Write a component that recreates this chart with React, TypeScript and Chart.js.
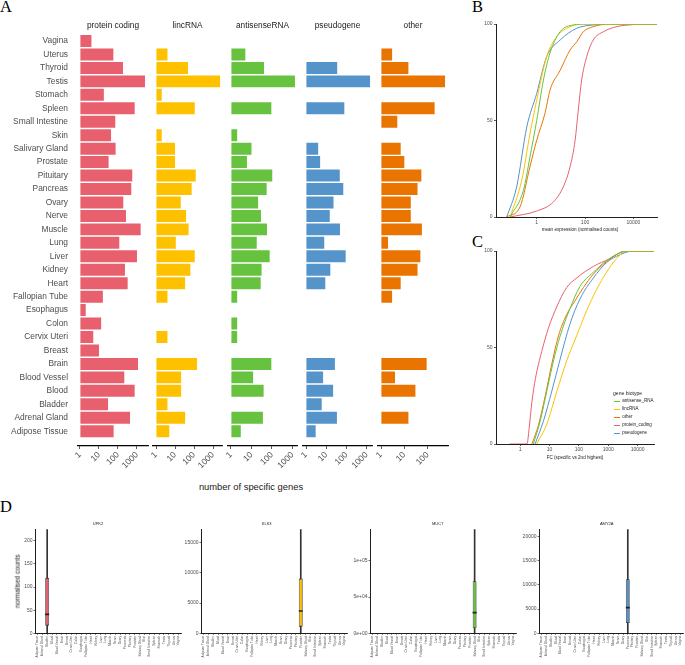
import React, { useEffect, useRef } from "react";
import { Chart, registerables } from "chart.js";

Chart.register(...registerables);

const SANS = "'Liberation Sans', Arial, Helvetica, sans-serif";
const SERIF = "'Liberation Serif', 'Times New Roman', serif";
const TICK = "#4d4d4d";
const INK = "#1a1a1a";
const AXIS = "#1f1f1f";

const PINK = "#E8606E";
const YELLOW = "#FDC100";
const GREEN = "#67C23F";
const BLUE = "#5593CB";
const ORANGE = "#E97500";

Chart.defaults.font.family = SANS;

// ---------------- Panel A: number of specific genes ----------------
const tissuesA = [
  "Vagina", "Uterus", "Thyroid", "Testis", "Stomach", "Spleen", "Small Intestine", "Skin",
  "Salivary Gland", "Prostate", "Pituitary", "Pancreas", "Ovary", "Nerve", "Muscle", "Lung",
  "Liver", "Kidney", "Heart", "Fallopian Tube", "Esophagus", "Colon", "Cervix Uteri", "Breast",
  "Brain", "Blood Vessel", "Blood", "Bladder", "Adrenal Gland", "Adipose Tissue",
];
const proteinCoding = [4, 57, 183, 2640, 18, 755, 72, 43, 75, 32, 565, 500, 190, 263, 1560, 117, 1000, 233, 323, 16, 2, 13, 5, 10, 1130, 215, 755, 30, 430, 59];
const lincRNA = [1, 4, 48, 2340, 2, 109, 1, 2, 10, 10, 123, 75, 20, 38, 52, 11, 109, 64, 34, 4, null, 1, 4, 1, 144, 21, 21, 4, 34, 5];
const antisenseRNA = [1, 5, 41, 1320, null, 93, null, 2, 10, 6, 103, 55, 21, 29, 57, 18, 77, 31, 28, 2, null, 2, 2, 1, 93, 12, 39, 1, 36, 3];
const pseudogene = [1, 1, 35, 1480, 1, 79, null, 1, 4, 5, 47, 70, 23, 15, 48, 8, 92, 16, 9, null, null, null, null, 1, 27, 7, 22, 6, 34, 3];
const otherGenes = [null, 3, 15, 560, null, 200, 5, 1, 7, 10, 54, 37, 19, 19, 57, 2, 49, 37, 7, 3, null, null, 1, 1, 91, 4, 30, null, 15, 1];

const facetNames = ["protein coding", "lincRNA", "antisenseRNA", "pseudogene", "other"];
const facetValues = [proteinCoding, lincRNA, antisenseRNA, pseudogene, otherGenes];
const facetColors = [PINK, YELLOW, GREEN, BLUE, ORANGE];
const facetMin = [0.785, 0.695, 0.714, 0.71, 0.743];
const facetMax = [3800, 2960, 1660, 1850, 751];
const facetTicks = [[1, 10, 100, 1000], [1, 10, 100, 1000], [1, 10, 100, 1000], [1, 10, 100, 1000], [1, 10, 100]];

// ---------------- Panel B: mean expression ECDF ----------------
const bTicksX = [1, 100, 10000];
const pctTicks = [0, 50, 100];
const bAntisenseX = [0.0794, 0.282, 0.525, 1, 1.9, 3.55, 9.33, 33, 117, 95000];
const bAntisenseY = [0, 13.8, 31, 50, 71, 85, 96, 99.5, 100, 100];
const bLincX = [0.0794, 0.24, 0.525, 1, 2.57, 6.76, 24, 85, 95000];
const bLincY = [0, 19, 43, 60.5, 83, 93.4, 98.6, 100, 100];
const bOtherX = [0.0575, 0.204, 0.525, 1, 2.19, 3.55, 9.33, 24, 45.7, 85, 219, 1070, 95000];
const bOtherY = [0, 5.2, 26, 39.8, 53.6, 65.7, 76, 86.5, 90.8, 96, 98.6, 100, 100];
const bProteinX = [0.079, 1, 4.9, 12.6, 24, 38.9, 52.5, 72.4, 117, 219, 575, 2040, 10000, 35500, 95000];
const bProteinY = [0, 3.1, 7.8, 15.6, 26, 39.8, 55.4, 70.9, 83, 91.7, 96, 98.6, 99.7, 100, 100];
const bPseudoX = [0.0575, 0.148, 0.389, 1, 2.57, 9.33, 45.7, 219, 1070, 95000];
const bPseudoY = [0, 15.6, 46.7, 64, 83, 91.7, 97.8, 99.5, 100, 100];

// ---------------- Panel C: fold change ECDF ----------------
const cTicksX = [1, 10, 100, 1000, 10000];
const cAntisenseX = [2.8, 4.8, 7.9, 13.5, 22.9, 49, 107, 309, 871, 2450, 5000, 36100];
const cAntisenseY = [0, 12, 27, 43, 56, 70, 81.5, 89, 95, 99, 100, 100];
const cLincX = [3.6, 7.9, 17.4, 38, 83, 182, 398, 871, 1900, 4170, 36100];
const cLincY = [0, 10, 27, 43, 56, 69, 80, 89, 96, 100, 100];
const cOtherX = [2.5, 4.2, 7.1, 11.7, 20, 38, 72, 141, 309, 871, 2450, 4170, 36100];
const cOtherY = [0, 10, 25, 41, 56, 67, 74, 81, 88, 94.5, 99, 100, 100];
const cProteinX = [0.43, 1.7, 2.0, 2.5, 3.3, 5.4, 9.1, 17.4, 38, 83, 309, 1120, 3160, 7080, 36100];
const cProteinY = [0, 0, 8, 22, 34, 48, 60, 71, 81, 86, 92, 96, 99.7, 100, 100];
const cPseudoX = [3.2, 6.2, 11.7, 22.9, 49, 107, 309, 871, 2450, 6900, 36100];
const cPseudoY = [0, 12, 27, 44, 62, 75, 86, 94, 98, 100, 100];

const legendLabels = ["antisense_RNA", "lincRNA", "other", "protein_coding", "pseudogene"];
const legendColors = [GREEN, YELLOW, ORANGE, PINK, BLUE];

// ---------------- Panel D: example genes ----------------
const tissuesD = [
  "Adipose Tissue", "Adrenal Gland", "Bladder", "Blood", "Blood Vessel", "Brain", "Breast",
  "Cervix Uteri", "Colon", "Esophagus", "Fallopian Tube", "Heart", "Kidney", "Liver", "Lung",
  "Muscle", "Nerve", "Ovary", "Pancreas", "Pituitary", "Prostate", "Salivary Gland", "Skin",
  "Small Intestine", "Spleen", "Stomach", "Testis", "Thyroid", "Uterus", "Vagina",
];
const genes = ["UPK2", "KLK3", "MUC7", "AMY2A"];
const geneTissue = ["Bladder", "Prostate", "Salivary Gland", "Pancreas"];
const geneLow = [0, 0, 0, 0];
const geneQ1 = [16.5, 1100, 6900, 2140];
const geneMedian = [41, 3700, 28600, 5310];
const geneQ3 = [120, 9050, 71900, 11170];
const geneHigh = [275, 22000, 170000, 25000];
const geneYMax = [225, 17200, 143600, 21500];
const geneYTicks = [[0, 50, 100, 150, 200], [0, 5000, 10000, 15000], [0, 50000, 100000], [0, 5000, 10000, 15000, 20000]];
const geneColors = [PINK, YELLOW, GREEN, BLUE];
const geneSci = [false, false, true, false];

// ---------------- layout (positions only) ----------------
const facetLeft = [78, 153, 228, 303, 378];
const facetRight = [148, 222, 297, 372, 448];
const dLeft = [35, 201, 370, 539];
const dRight = [181, 347, 516, 683];
const dTitleX = [98, 266.7, 437.7, 606.7];

type Area = { l: number; t: number; r: number; b: number };

function ChartCanvas(props: { x: number; y: number; w: number; h: number; area: Area; build: () => any }) {
  const { x, y, w, h, area, build } = props;
  const ref = useRef<HTMLCanvasElement | null>(null);
  useEffect(() => {
    const cfg = build();
    const o = cfg.options;
    o.responsive = false;
    o.animation = false;
    o.events = [];
    o.layout = { padding: { left: 0, top: area.t, right: w - area.r, bottom: 0 } };
    o.plugins = { legend: { display: false }, tooltip: { enabled: false }, title: { display: false } };
    o.scales.x.afterFit = (s: any) => { s.height = h - area.b; };
    o.scales.y.afterFit = (s: any) => { s.width = area.l; };
    const chart = new Chart(ref.current as HTMLCanvasElement, cfg);
    return () => chart.destroy();
  }, []);
  return (
    <canvas ref={ref} width={w} height={h}
      style={{ position: "absolute", left: x, top: y, width: w, height: h }} />
  );
}

function Label(props: any) {
  const { x, y, size, text, align = "center", color = INK, family = SANS, rotate = 0 } = props;
  const W = 400;
  const left = align === "center" ? x - W / 2 : align === "left" ? x : x - W;
  return (
    <div style={{
      position: "absolute", left, top: y - size / 2, width: W, height: size,
      lineHeight: `${size}px`, fontSize: size, fontFamily: family, color, textAlign: align,
      whiteSpace: "nowrap", transform: rotate ? `rotate(${rotate}deg)` : undefined,
      transformOrigin: "50% 50%",
    }}>{text}</div>
  );
}

function facetConfig(i: number) {
  const vals = facetValues[i];
  return {
    type: "bar",
    data: {
      datasets: [{
        data: vals.flatMap((v, k) => (v == null ? [] : [{ x: v, y: k }])),
        backgroundColor: facetColors[i],
        borderWidth: 0,
        base: 1,
        barPercentage: 0.89,
        categoryPercentage: 1,
      }],
    },
    options: {
      indexAxis: "y",
      scales: {
        x: {
          type: "logarithmic", position: "bottom", min: facetMin[i], max: facetMax[i], bounds: "data",
          afterBuildTicks: (s: any) => { s.ticks = facetTicks[i].map((v) => ({ value: v })); },
          ticks: {
            autoSkip: false, minRotation: 45, maxRotation: 45, padding: 1,
            font: { family: SANS, size: 8.5 }, color: TICK, callback: (v: any) => String(v),
          },
          grid: { display: true, drawOnChartArea: false, drawTicks: true, tickLength: 3, color: "#333", lineWidth: 0.8 },
          border: { display: true, color: "#000", width: 1.2 },
        },
        y: {
          type: "linear", reverse: true, min: -0.55, max: 30.1, bounds: "data", offset: false,
          afterBuildTicks: (s: any) => { s.ticks = tissuesA.map((_, k) => ({ value: k })); },
          ticks: {
            display: i === 0, autoSkip: false, padding: 10,
            font: { family: SANS, size: 8.4 }, color: TICK,
            callback: (v: any) => tissuesA[v] ?? "",
          },
          grid: { display: false, drawTicks: false },
          border: { display: false },
        },
      },
    },
  };
}

function ecdfConfig(series: { x: number[]; y: number[]; color: string }[], xMin: number, xMax: number, xTicks: number[]) {
  return {
    type: "line",
    data: {
      datasets: series.map((s) => ({
        data: s.x.map((v, k) => ({ x: v, y: s.y[k] })),
        borderColor: s.color, borderWidth: 1, pointRadius: 0,
        cubicInterpolationMode: "monotone", fill: false,
      })),
    },
    options: {
      scales: {
        x: {
          type: "logarithmic", min: xMin, max: xMax, bounds: "data",
          afterBuildTicks: (s: any) => { s.ticks = xTicks.map((v) => ({ value: v })); },
          ticks: { autoSkip: false, maxRotation: 0, minRotation: 0, padding: 1, font: { size: 5 }, color: TICK, callback: (v: any) => String(v) },
          grid: { display: true, drawOnChartArea: false, tickLength: 2, color: "#333", lineWidth: 0.8 },
          border: { display: true, color: AXIS, width: 1 },
        },
        y: {
          type: "linear", min: 0, max: 100, bounds: "data",
          afterBuildTicks: (s: any) => { s.ticks = pctTicks.map((v) => ({ value: v })); },
          ticks: { padding: 1.5, font: { size: 5 }, color: TICK, callback: (v: any) => String(v) },
          grid: { display: true, drawOnChartArea: false, tickLength: 2, color: "#333", lineWidth: 0.8 },
          border: { display: true, color: AXIS, width: 1 },
        },
      },
    },
  };
}

function boxConfig(g: number) {
  const t = geneTissue[g];
  const fmt = (v: number) => (geneSci[g] ? v.toExponential(0).replace(/e([+-])(\d)$/, "e$10$2") : String(v));
  return {
    type: "bar",
    data: {
      labels: tissuesD,
      datasets: [
        {
          type: "bar", data: tissuesD.map((d) => (d === t ? [geneLow[g], geneHigh[g]] : null)),
          backgroundColor: "#333", barThickness: 1, grouped: false, order: 3, clip: 0,
        },
        {
          type: "bar", data: tissuesD.map((d) => (d === t ? [geneQ1[g], geneQ3[g]] : null)),
          backgroundColor: geneColors[g], borderColor: "#333", borderWidth: 0.8, borderSkipped: false,
          barPercentage: 0.8, categoryPercentage: 1, grouped: false, order: 2,
        },
        {
          type: "line", data: tissuesD.map((d) => (d === t ? geneMedian[g] : null)),
          showLine: false, pointStyle: "line", pointRadius: 2, pointBorderColor: "#222",
          pointBorderWidth: 1.6, borderColor: "#222", order: 1,
        },
      ],
    },
    options: {
      scales: {
        x: {
          type: "category", offset: true,
          ticks: { autoSkip: false, minRotation: 90, maxRotation: 90, padding: 1, font: { size: 3.2 }, color: TICK },
          grid: { display: true, offset: false, drawOnChartArea: false, tickLength: 1.5, color: "#333", lineWidth: 0.7 },
          border: { display: true, color: AXIS, width: 1 },
        },
        y: {
          type: "linear", min: 0, max: geneYMax[g], bounds: "data",
          afterBuildTicks: (s: any) => { s.ticks = geneYTicks[g].map((v) => ({ value: v })); },
          ticks: { padding: 1, font: { size: 5 }, color: TICK, callback: (v: any) => fmt(v) },
          grid: { display: true, drawOnChartArea: false, tickLength: 1.5, color: "#333", lineWidth: 0.7 },
          border: { display: true, color: AXIS, width: 1 },
        },
      },
    },
  };
}

export default function App() {
  const aTop = 33.6;
  const aBottom = 446;
  const aH = 480;
  const bSeries = [
    { x: bAntisenseX, y: bAntisenseY, color: GREEN },
    { x: bLincX, y: bLincY, color: YELLOW },
    { x: bOtherX, y: bOtherY, color: ORANGE },
    { x: bProteinX, y: bProteinY, color: PINK },
    { x: bPseudoX, y: bPseudoY, color: BLUE },
  ];
  const cSeries = [
    { x: cAntisenseX, y: cAntisenseY, color: GREEN },
    { x: cLincX, y: cLincY, color: YELLOW },
    { x: cOtherX, y: cOtherY, color: ORANGE },
    { x: cProteinX, y: cProteinY, color: PINK },
    { x: cPseudoX, y: cPseudoY, color: BLUE },
  ];
  return (
    <div style={{ position: "absolute", left: 0, top: 0, width: 685, height: 665, overflow: "hidden", background: "#fff" }}>
      {/* Panel letters */}
      <Label x={0} y={7.2} size={16.5} text="A" align="left" family={SERIF} color="#000" />
      <Label x={472} y={7.2} size={16.5} text="B" align="left" family={SERIF} color="#000" />
      <Label x={472} y={242.5} size={16.5} text="C" align="left" family={SERIF} color="#000" />
      <Label x={0} y={507.3} size={16.5} text="D" align="left" family={SERIF} color="#000" />

      {/* Panel A facets */}
      {facetNames.map((name, i) => {
        const pad = i === 0 ? 78 : 22;
        const width = facetRight[i] - facetLeft[i];
        return (
          <ChartCanvas key={name} x={facetLeft[i] - pad} y={0} w={pad + width + 6} h={aH}
            area={{ l: pad, t: aTop, r: pad + width, b: aBottom }} build={() => facetConfig(i)} />
        );
      })}
      {facetNames.map((name, i) => (
        <Label key={"strip" + name} x={(facetLeft[i] + facetRight[i]) / 2} y={25} size={8.3} text={name} />
      ))}
      <Label x={251} y={487} size={9.4} text="number of specific genes" />

      {/* Panel B */}
      <ChartCanvas x={460} y={10} w={225} h={225} area={{ l: 36, t: 14, r: 197, b: 207 }}
        build={() => ecdfConfig(bSeries, 0.0207, 95000, bTicksX)} />
      <Label x={580} y={230} size={4.6} text="mean expression (normalised counts)" />

      {/* Panel C */}
      <ChartCanvas x={460} y={237} w={225} h={225} area={{ l: 36, t: 14, r: 194, b: 207 }}
        build={() => ecdfConfig(cSeries, 0.149, 36100, cTicksX)} />
      <Label x={575} y={458} size={4.6} text="FC (specific vs 2nd highest)" />
      <Label x={613} y={393.3} size={5.1} text="gene biotype" align="left" />
      {legendLabels.map((lab, i) => (
        <React.Fragment key={lab}>
          <div style={{ position: "absolute", left: 614, top: 401.7 + i * 7.9 - 0.5, width: 6, height: 1, background: legendColors[i] }} />
          <Label x={622.3} y={401.7 + i * 7.9} size={4.5} text={lab} align="left" />
        </React.Fragment>
      ))}

      {/* Panel D */}
      {genes.map((gname, g) => {
        const width = dRight[g] - dLeft[g];
        return (
          <ChartCanvas key={gname} x={dLeft[g] - 35} y={512} w={35 + width + 10} h={153}
            area={{ l: 35, t: 17.3, r: 35 + width, b: 121.3 }} build={() => boxConfig(g)} />
        );
      })}
      {genes.map((gname, g) => (
        <Label key={"t" + gname} x={dTitleX[g]} y={524} size={4} text={gname} />
      ))}
      <Label x={17.5} y={581} size={6.6} text="normalised counts" rotate={-90} />
    </div>
  );
}
